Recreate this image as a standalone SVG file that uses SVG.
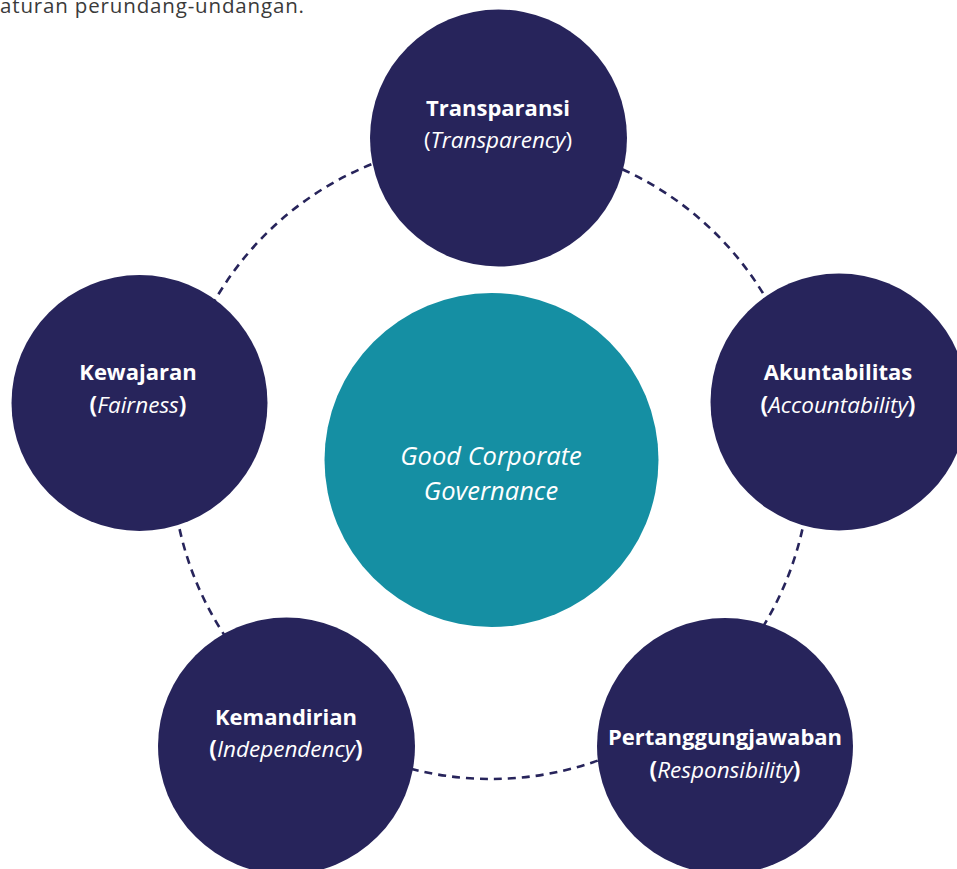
<svg xmlns="http://www.w3.org/2000/svg" width="957" height="869" viewBox="0 0 957 869">
<style>
.node{fill:#27245b}
.hub{fill:#158fa3}
.t{font-family:"Open Sans","Noto Sans",sans-serif;fill:#ffffff;text-anchor:middle;font-size:22px}
.s{font-size:22.5px}
.b{font-weight:bold}
.i{font-style:italic;font-weight:normal}
.ring{fill:none;stroke:#27245b;stroke-width:2.6;stroke-dasharray:8 6}
.top{font-family:"Open Sans","Noto Sans",sans-serif;font-size:20.5px;fill:#3a3a3a}
</style>
<rect width="957" height="869" fill="#ffffff"/>
<text class="top" x="0" y="13" textLength="304" lengthAdjust="spacing">aturan perundang-undangan.</text>
<g id="connectors">
<circle class="ring" cx="491" cy="460" r="319"/>
</g>
<g id="hub">
<circle class="hub" cx="491.5" cy="460" r="167"/>
<text class="t i" style="font-size:25.5px" x="491" y="465">Good Corporate</text>
<text class="t i" style="font-size:25.5px" x="491" y="500">Governance</text>
</g>
<g id="transparansi">
<circle class="node" cx="498.5" cy="138" r="128.5"/>
<text class="t b" x="498" y="116">Transparansi</text>
<text class="t s" x="498" y="148">(<tspan class="i">Transparency</tspan>)</text>
</g>
<g id="akuntabilitas">
<circle class="node" cx="839" cy="402" r="128.5"/>
<text class="t b" x="838" y="380">Akuntabilitas</text>
<text class="t b s" x="838" y="413">(<tspan class="i">Accountability</tspan>)</text>
</g>
<g id="pertanggungjawaban">
<circle class="node" cx="725" cy="746" r="128"/>
<text class="t b" x="725" y="745">Pertanggungjawaban</text>
<text class="t b s" x="725" y="778">(<tspan class="i">Responsibility</tspan>)</text>
</g>
<g id="kemandirian">
<circle class="node" cx="286.5" cy="746" r="128.5"/>
<text class="t b" x="286" y="725">Kemandirian</text>
<text class="t b s" x="286" y="757">(<tspan class="i">Independency</tspan>)</text>
</g>
<g id="kewajaran">
<circle class="node" cx="139.5" cy="403" r="128"/>
<text class="t b" x="138" y="380">Kewajaran</text>
<text class="t b s" x="138" y="413">(<tspan class="i">Fairness</tspan>)</text>
</g>
</svg>
